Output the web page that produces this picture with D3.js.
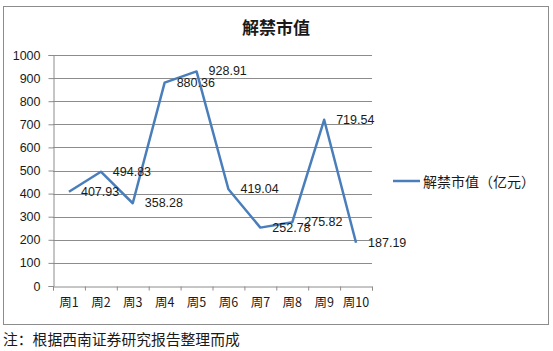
<!DOCTYPE html>
<html>
<head>
<meta charset="utf-8">
<script src="https://cdn.jsdelivr.net/npm/d3@7"></script>
<style>
  body { margin: 0; background: #fff; }
  svg { display: block; }
  text { fill: #1a1a1a; }
</style>
</head>
<body>
<div class="chart"></div>
<script>
var svgWidth = 553;
var svgHeight = 351;

var weeks = ["周1", "周2", "周3", "周4", "周5", "周6", "周7", "周8", "周9", "周10"];
var values = [407.93, 494.83, 358.28, 880.36, 928.91, 419.04, 252.78, 275.82, 719.54, 187.19];
var yTicks = [0, 100, 200, 300, 400, 500, 600, 700, 800, 900, 1000];

var titleText = "解禁市值";
var seriesName = "解禁市值（亿元）";
var noteText = "注：根据西南证券研究报告整理而成";

var plot = { left: 53, right: 372, top: 55, bottom: 286 };

var numFont = "'Liberation Sans', Arial, sans-serif";
var cjkFont = "'Noto Sans CJK SC', 'Liberation Sans', sans-serif";

var svg = d3.select(".chart")
    .append("svg")
    .attr("width", svgWidth)
    .attr("height", svgHeight);

// outer chart frame
svg.append("rect")
    .attr("x", 3.5)
    .attr("y", 6.5)
    .attr("width", 545)
    .attr("height", 318)
    .attr("fill", "#fff")
    .attr("stroke", "#8c8c8c")
    .attr("stroke-width", 1);

svg.append("text")
    .attr("x", 276)
    .attr("y", 26)
    .attr("text-anchor", "middle")
    .attr("dominant-baseline", "central")
    .attr("font-family", cjkFont)
    .attr("font-weight", "bold")
    .attr("font-size", "17px")
    .text(titleText);

var x = d3.scaleBand()
    .domain(weeks)
    .range([plot.left, plot.right])
    .padding(0);

var xEdge = d3.scaleLinear()
    .domain([0, weeks.length])
    .range([plot.left, plot.right]);

var y = d3.scaleLinear()
    .domain([0, 1000])
    .range([plot.bottom, plot.top]);

// gridlines
svg.append("g")
    .selectAll("line")
    .data(yTicks.slice(1))
    .enter()
    .append("line")
    .attr("x1", plot.left)
    .attr("x2", plot.right)
    .attr("y1", d => Math.round(y(d)) + 0.5)
    .attr("y2", d => Math.round(y(d)) + 0.5)
    .attr("stroke", "#8c8c8c")
    .attr("stroke-width", 1);

// y axis
var leftAxis = d3.axisLeft(y)
    .tickValues(yTicks)
    .tickSize(5)
    .tickPadding(8)
    .tickFormat(d3.format("d"));

var yAxis = svg.append("g")
    .attr("transform", `translate(${plot.left + 0.5}, 0)`)
    .call(leftAxis);

yAxis.select(".domain").attr("stroke", "#8c8c8c");
yAxis.selectAll(".tick line").attr("stroke", "#8c8c8c");
yAxis.selectAll(".tick text")
    .attr("font-family", numFont)
    .attr("font-size", "12.5px")
    .attr("fill", "#1a1a1a");

// x axis: tick marks at band edges, labels in band centres
var edgeAxis = d3.axisBottom(xEdge)
    .ticks(weeks.length)
    .tickSize(4)
    .tickFormat("");

var xAxis = svg.append("g")
    .attr("transform", `translate(0, ${Math.round(plot.bottom) + 0.5})`)
    .call(edgeAxis);

xAxis.select(".domain").attr("stroke", "#8c8c8c");
xAxis.selectAll(".tick line").attr("stroke", "#8c8c8c");

var labelAxis = d3.axisBottom(x)
    .tickSize(0)
    .tickPadding(12);

var xLabels = svg.append("g")
    .attr("transform", `translate(0, ${plot.bottom})`)
    .call(labelAxis);

xLabels.select(".domain").remove();
xLabels.selectAll(".tick text")
    .attr("font-family", cjkFont)
    .attr("font-size", "12.5px")
    .attr("fill", "#1a1a1a");

// series line
var line = d3.line()
    .x((d, i) => x(weeks[i]) + x.bandwidth() / 2)
    .y(d => y(d));

svg.append("path")
    .datum(values)
    .attr("d", line)
    .attr("fill", "none")
    .attr("stroke", "#4a7ebb")
    .attr("stroke-width", 2.5)
    .attr("stroke-linejoin", "round");

// data labels to the right of points
svg.append("g")
    .selectAll("text")
    .data(values)
    .enter()
    .append("text")
    .attr("x", (d, i) => x(weeks[i]) + x.bandwidth() / 2 + 12)
    .attr("y", d => y(d))
    .attr("dominant-baseline", "central")
    .attr("font-family", numFont)
    .attr("font-size", "12.5px")
    .text(d => d3.format(".2f")(d));

// legend
svg.append("line")
    .attr("x1", 393)
    .attr("x2", 420)
    .attr("y1", 181)
    .attr("y2", 181)
    .attr("stroke", "#4a7ebb")
    .attr("stroke-width", 2.5);

svg.append("text")
    .attr("x", 423)
    .attr("y", 181)
    .attr("dominant-baseline", "central")
    .attr("font-family", cjkFont)
    .attr("font-size", "14px")
    .text(seriesName);

// footnote
svg.append("text")
    .attr("x", 3)
    .attr("y", 338)
    .attr("dominant-baseline", "central")
    .attr("font-family", cjkFont)
    .attr("font-size", "14.8px")
    .text(noteText);
</script>
</body>
</html>
